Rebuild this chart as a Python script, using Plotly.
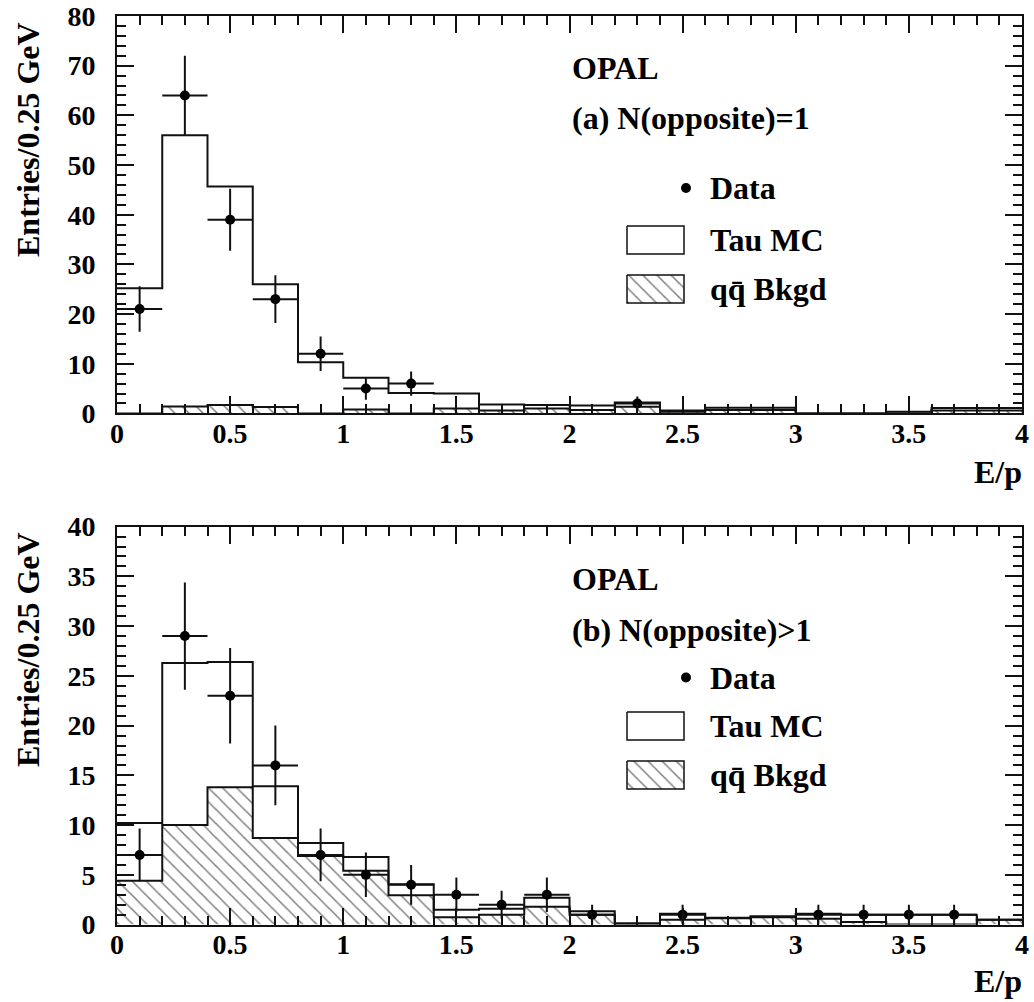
import plotly.graph_objects as go

# ---------------- data ----------------
bin_edges = [0.0, 0.2, 0.4, 0.6, 0.8, 1.0, 1.2, 1.4, 1.6, 1.8, 2.0,
             2.2, 2.4, 2.6, 2.8, 3.0, 3.2, 3.4, 3.6, 3.8, 4.0]
bin_centers = [0.1, 0.3, 0.5, 0.7, 0.9, 1.1, 1.3, 1.5, 1.7, 1.9,
               2.1, 2.3, 2.5, 2.7, 2.9, 3.1, 3.3, 3.5, 3.7, 3.9]

# (a) N(opposite)=1
tau_mc_a = [25.2, 56.0, 45.7, 26.0, 10.3, 7.2, 4.1, 4.0, 1.8, 1.7,
            1.6, 2.2, 0.6, 1.15, 1.15, 0.0, 0.0, 0.35, 1.1, 1.1]
bkgd_a = [0.0, 1.4, 1.7, 1.3, 0.0, 0.8, 0.0, 1.0, 0.6, 1.0,
          0.7, 1.35, 0.35, 0.7, 0.7, 0.0, 0.0, 0.0, 0.6, 0.6]
data_a = [21, 64, 39, 23, 12, 5, 6, 0, 0, 0,
          0, 2, 0, 0, 0, 0, 0, 0, 0, 0]

# (b) N(opposite)>1
tau_mc_b = [10.2, 26.3, 26.4, 13.9, 8.2, 6.8, 4.05, 1.5, 1.6, 2.7,
            1.33, 0.14, 1.1, 0.7, 0.85, 1.1, 1.0, 1.0, 1.0, 0.5]
bkgd_b = [4.4, 10.0, 13.8, 8.7, 6.9, 5.4, 2.95, 0.75, 1.0, 1.8,
          1.0, 0.05, 0.5, 0.65, 0.75, 0.6, 0.25, 0.0, 0.0, 0.5]
data_b = [7, 29, 23, 16, 7, 5, 4, 3, 2, 3,
          1, 0, 1, 0, 0, 1, 1, 1, 1, 0]

x_tick_vals = [0, 0.5, 1, 1.5, 2, 2.5, 3, 3.5, 4]
x_tick_text = ["0", "0.5", "1", "1.5", "2", "2.5", "3", "3.5", "4"]
y_tick_vals_a = [0, 10, 20, 30, 40, 50, 60, 70, 80]
y_tick_vals_b = [0, 5, 10, 15, 20, 25, 30, 35, 40]

# ---------------- layout constants (pixels) ----------------
W, H = 1034, 1002
PX0, PX1 = 117, 1022
PANELS = [(16.0, 413.4), (526.6, 924.6)]
FONT = "Liberation Serif"
INK = "#111111"
HATCH = dict(shape="\\", fgcolor="black", bgcolor="white", size=10, solidity=0.15)

fig = go.Figure()


def step_xy(vals):
    return list(bin_edges), list(vals) + [vals[-1]]


def add_panel(idx, mc, bk, dat):
    xa = "x" if idx == 0 else "x2"
    ya = "y" if idx == 0 else "y2"
    sx, sy = step_xy(bk)
    fig.add_trace(go.Scatter(
        x=sx, y=sy, xaxis=xa, yaxis=ya, mode="lines", line_shape="hv",
        line=dict(color=INK, width=2), fill="tozeroy", fillcolor="white",
        fillpattern=HATCH, showlegend=False, hoverinfo="skip"))
    mx, my = step_xy(mc)
    fig.add_trace(go.Scatter(
        x=mx, y=my, xaxis=xa, yaxis=ya, mode="lines", line_shape="hv",
        line=dict(color=INK, width=2), showlegend=False, hoverinfo="skip"))
    dx = [c for c, d in zip(bin_centers, dat) if d > 0]
    dy = [d for d in dat if d > 0]
    fig.add_trace(go.Scatter(
        x=dx, y=dy, xaxis=xa, yaxis=ya, mode="markers",
        marker=dict(color="black", size=10, symbol="circle"),
        error_y=dict(type="data", array=[v ** 0.5 for v in dy], color=INK, thickness=2, width=0),
        error_x=dict(type="constant", value=0.1, color=INK, thickness=2, width=0),
        showlegend=False))


add_panel(0, tau_mc_a, bkgd_a, data_a)
add_panel(1, tau_mc_b, bkgd_b, data_b)

tickfont = dict(family=FONT, size=28, color="black", weight="bold")


def xaxis_cfg(anchor, dom):
    return dict(domain=dom, anchor=anchor, range=[0, 4], showline=True, linecolor=INK,
                linewidth=2, mirror="ticks", ticks="inside", ticklen=17, tickwidth=2,
                tickcolor=INK, tickmode="array", tickvals=x_tick_vals, ticktext=x_tick_text,
                tickfont=tickfont, showgrid=False, zeroline=False, ticklabelstandoff=-6,
                minor=dict(ticks="inside", ticklen=9, tickwidth=1.5, tickcolor=INK,
                           tickmode="linear", tick0=0, dtick=0.1, showgrid=False),
                automargin=False)


def yaxis_cfg(anchor, dom, rng, vals, mdt):
    return dict(domain=dom, anchor=anchor, range=rng, showline=True, linecolor=INK,
                linewidth=2, mirror="ticks", ticks="inside", ticklen=17, tickwidth=2,
                tickcolor=INK, tickmode="array", tickvals=vals,
                ticktext=[str(v) for v in vals],
                tickfont=tickfont, showgrid=False, zeroline=False, ticklabelstandoff=14,
                minor=dict(ticks="inside", ticklen=9, tickwidth=1.5, tickcolor=INK,
                           tickmode="linear", tick0=0, dtick=mdt, showgrid=False),
                automargin=False)


xdom = [PX0 / W, PX1 / W]
ydom_a = [1 - PANELS[0][1] / H, 1 - PANELS[0][0] / H]
ydom_b = [1 - PANELS[1][1] / H, 1 - PANELS[1][0] / H]

fig.update_layout(
    width=W, height=H, margin=dict(l=0, r=0, t=0, b=0),
    paper_bgcolor="white", plot_bgcolor="rgba(0,0,0,0)",
    xaxis=xaxis_cfg("y", xdom),
    yaxis=yaxis_cfg("x", ydom_a, [0, 80], y_tick_vals_a, 2),
    xaxis2=xaxis_cfg("y2", xdom),
    yaxis2=yaxis_cfg("x2", ydom_b, [0, 40], y_tick_vals_b, 1),
    xaxis3=dict(domain=[0, 1], anchor="y3", range=[0, W], visible=False, fixedrange=True),
    yaxis3=dict(domain=[0, 1], anchor="x3", range=[H, 0], visible=False, fixedrange=True),
    showlegend=False,
)

# ---------------- custom keys (pixel overlay) ----------------
keys = [
    dict(label="(a) N(opposite)=1", opal=68, lab=118, data=188, mc=240, bk=289, ytitle=140, ep=472),
    dict(label="(b) N(opposite)>1", opal=579, lab=630, data=677.5, mc=726, bk=775, ytitle=650, ep=981),
]
BOX_X0, BOX_X1, BOX_H = 627, 684, 28
TXT_X = 708
txtfont = dict(family=FONT, size=32, color="black", weight="bold")

for k in keys:
    fig.add_trace(go.Scatter(x=[686], y=[k["data"]], xaxis="x3", yaxis="y3", mode="markers",
                             marker=dict(color="black", size=10), showlegend=False, hoverinfo="skip"))
    y0, y1 = k["mc"] - BOX_H / 2, k["mc"] + BOX_H / 2
    fig.add_trace(go.Scatter(x=[BOX_X0, BOX_X1, BOX_X1, BOX_X0, BOX_X0], y=[y0, y0, y1, y1, y0],
                             xaxis="x3", yaxis="y3", mode="lines", fill="toself", fillcolor="white",
                             line=dict(color=INK, width=1.5), showlegend=False, hoverinfo="skip"))
    y0, y1 = k["bk"] - BOX_H / 2, k["bk"] + BOX_H / 2
    fig.add_trace(go.Scatter(x=[BOX_X0, BOX_X1, BOX_X1, BOX_X0, BOX_X0], y=[y0, y0, y1, y1, y0],
                             xaxis="x3", yaxis="y3", mode="lines", fill="toself", fillcolor="white",
                             fillpattern=HATCH,
                             line=dict(color=INK, width=1.5), showlegend=False, hoverinfo="skip"))
    for txt, yy in [("OPAL", k["opal"]), (k["label"], k["lab"])]:
        fig.add_annotation(x=570, y=yy, xref="x3", yref="y3", text=txt, showarrow=False,
                           xanchor="left", yanchor="middle", font=txtfont)
    for txt, yy in [("Data", k["data"]), ("Tau MC", k["mc"]), ("qq\u0304 Bkgd", k["bk"])]:
        fig.add_annotation(x=TXT_X, y=yy, xref="x3", yref="y3", text=txt, showarrow=False,
                           xanchor="left", yanchor="middle", font=txtfont)
    fig.add_annotation(x=28, y=k["ytitle"], xref="x3", yref="y3", text="Entries/0.25 GeV",
                       textangle=-90, showarrow=False, xanchor="center", yanchor="middle",
                       font=dict(family=FONT, size=32, color="black", weight="bold"))
    fig.add_annotation(x=1024, y=k["ep"], xref="x3", yref="y3", text="E/p", showarrow=False,
                       xanchor="right", yanchor="middle", font=txtfont)

fig.write_html("out.html", config={"displayModeBar": False},
               post_script="document.body.style.margin='0';"
                           "document.body.style.overflow='hidden';")
